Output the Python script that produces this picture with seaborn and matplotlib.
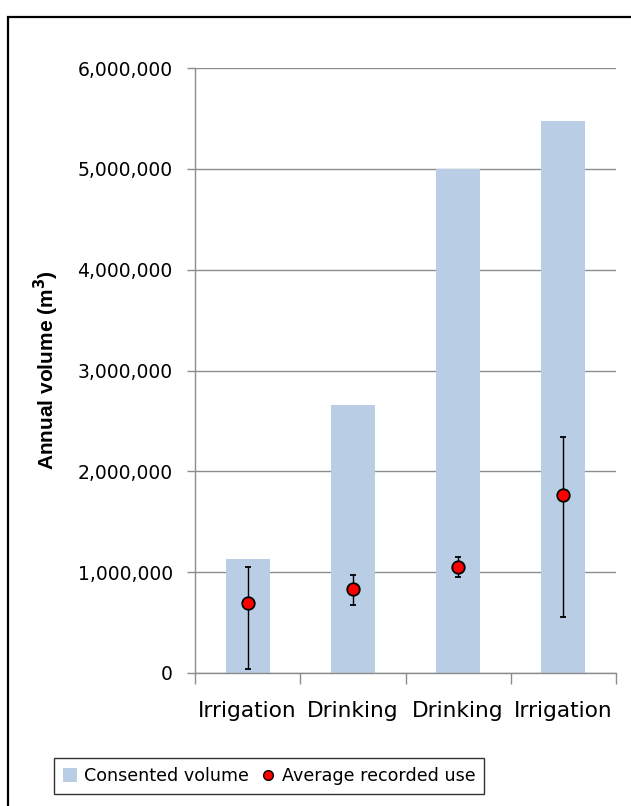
import matplotlib
matplotlib.use("Agg")
import matplotlib.pyplot as plt
from matplotlib.patches import Rectangle
from matplotlib.lines import Line2D
import seaborn as sns
import pandas as pd
import numpy as np

# Data
sites = ["S1", "S2", "S3", "S4"]
site_labels = ["Irrigation", "Drinking", "Drinking", "Irrigation"]
consented = [1130000, 2660000, 5000000, 5470000]
avg_use = [690000, 830000, 1050000, 1770000]
use_high = [1050000, 970000, 1150000, 2340000]
use_low = [40000, 670000, 950000, 560000]
y_ticks = [0, 1000000, 2000000, 3000000, 4000000, 5000000, 6000000]

sns.set_style("white")
plt.rcParams['font.family'] = ['DejaVu Sans']
plt.rcParams['text.color'] = 'black'
plt.rcParams['axes.labelcolor'] = 'black'
plt.rcParams['xtick.labelcolor'] = 'black'
plt.rcParams['ytick.labelcolor'] = 'black'

fig = plt.figure(figsize=(6.31, 8.06), dpi=100)
ax = fig.add_axes([195/631, 1-673/806, (616-195)/631, (673-68)/806])

df = pd.DataFrame({"site": sites, "consented": consented})
bar_color = "#B9CDE5"
sns.barplot(data=df, x="site", y="consented", color=bar_color, width=0.42,
            saturation=1, ax=ax, zorder=2, edgecolor="none", linewidth=0)

pos = np.arange(len(sites))
avg = np.array(avg_use)
yerr = [avg - np.array(use_low), np.array(use_high) - avg]
ax.errorbar(pos, avg, yerr=yerr, fmt="o", color="black", ecolor="black",
            elinewidth=1.0, capsize=2.2, capthick=3.0,
            markerfacecolor="red", markeredgecolor="black", markeredgewidth=1.3,
            markersize=9, zorder=4)

ax.set_ylim(0, 6000000)
ax.set_xlim(-0.5, 3.5)
ax.set_yticks(y_ticks)
ax.set_yticklabels([f"{v:,}" for v in y_ticks], fontsize=13.5, color="black")
ax.yaxis.grid(True, color="#8C8C8C", linewidth=1.0, zorder=0)
ax.set_axisbelow(True)

# ticks at category boundaries, labels centered
ax.set_xticks(np.arange(-0.5, 4.0, 1.0))
ax.set_xticklabels([])
ax.set_xticks(pos, minor=True)
ax.set_xticklabels(site_labels, minor=True, fontsize=15.6, color="black")
ax.tick_params(axis="x", which="major", length=8, width=1, color="#8C8C8C", direction="out", bottom=True)
ax.tick_params(axis="x", which="minor", length=0, pad=20)
ax.tick_params(axis="y", length=6, width=1, color="#8C8C8C", direction="out", left=True, pad=10)

for s in ["top", "right"]:
    ax.spines[s].set_visible(False)
for s in ["left", "bottom"]:
    ax.spines[s].set_color("#8C8C8C")
    ax.spines[s].set_linewidth(1.0)

ax.set_xlabel("")
ax.set_ylabel("Annual volume (m$^\\mathbf{3}$)", fontsize=15, fontweight="bold",
              family="Liberation Sans", labelpad=12, color="black")

handles = [Rectangle((0, 0), 1, 1, facecolor=bar_color, edgecolor="none"),
           Line2D([], [], marker="o", linestyle="none", markerfacecolor="red",
                  markeredgecolor="black", markersize=7)]
leg = fig.legend(handles, ["Consented volume", "Average recorded use"],
                 loc="center", bbox_to_anchor=(269/631, 1-776/806), ncol=2,
                 fontsize=12.6, frameon=True, fancybox=False, handlelength=0.8,
                 handleheight=0.8, handletextpad=0.4, columnspacing=0.7, borderpad=0.5)
leg.get_frame().set_edgecolor("black")
leg.get_frame().set_linewidth(1.0)
for t in leg.get_texts():
    t.set_color("black")

# outer border
fig.add_artist(Rectangle((8/631, -0.05), 1.2, 1 - 17/806 + 0.05, transform=fig.transFigure,
                         fill=False, edgecolor="black", linewidth=1.6))

fig.savefig("out.png", dpi=100)
